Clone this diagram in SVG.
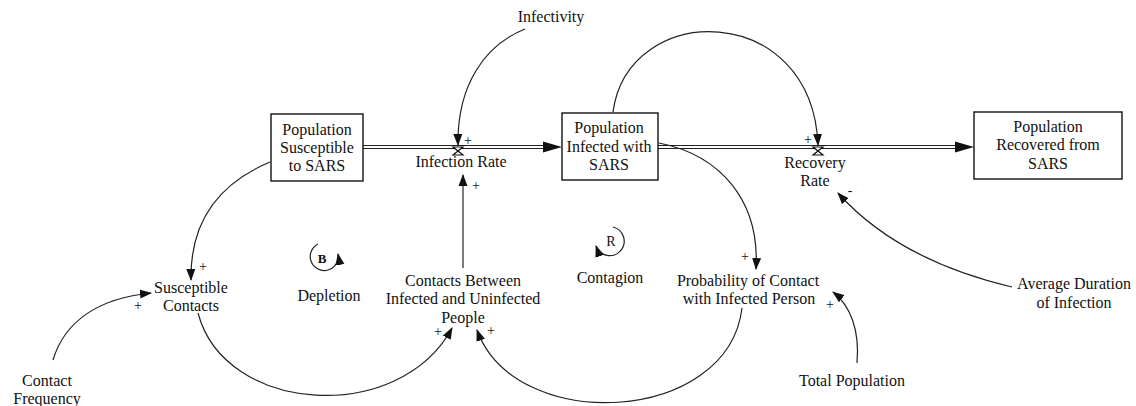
<svg xmlns="http://www.w3.org/2000/svg" width="1136" height="406" viewBox="0 0 1136 406" font-family="'Liberation Serif', 'DejaVu Serif', serif">
<style>
text{font-family:'Liberation Serif','DejaVu Serif',serif;font-size:16px;fill:#111;text-anchor:middle}
.sign{font-size:14px}
.box{fill:#fff;stroke:#111;stroke-width:1.4}
.link{fill:none;stroke:#222;stroke-width:1.2}
.pipe{fill:none;stroke:#222;stroke-width:1.2}
.valve{fill:#fff;stroke:#111;stroke-width:1.2}
</style>
<defs>
<marker id="ah" markerUnits="userSpaceOnUse" markerWidth="12" markerHeight="10" viewBox="0 0 12 10" refX="11" refY="5" orient="auto">
<path d="M0,0.5 L12,5 L0,9.5 Z" fill="#111"/>
</marker>
</defs>
<rect width="1136" height="406" fill="#fff"/>

<g id="flows">
<line class="pipe" x1="363" y1="145.5" x2="548" y2="145.5"/>
<line class="pipe" x1="363" y1="148.5" x2="548" y2="148.5"/>
<path d="M543,141.5 L562,147 L543,152.5 Z" fill="#111"/>
<line class="pipe" x1="658" y1="145.5" x2="960" y2="145.5"/>
<line class="pipe" x1="658" y1="148.5" x2="960" y2="148.5"/>
<path d="M955,141.5 L974,147 L955,152.5 Z" fill="#111"/>
</g>

<g id="node-susceptible">
<rect class="box" x="271" y="114" width="92" height="67"/>
<text x="317" y="135">Population</text>
<text x="317" y="153">Susceptible</text>
<text x="317" y="171">to SARS</text>
</g>
<g id="node-infected">
<rect class="box" x="562" y="113" width="96" height="67"/>
<text x="609" y="133">Population</text>
<text x="609" y="152">Infected with</text>
<text x="609" y="170">SARS</text>
</g>
<g id="node-recovered">
<rect class="box" x="974" y="112" width="148" height="67"/>
<text x="1048" y="132">Population</text>
<text x="1048" y="150">Recovered from</text>
<text x="1048" y="169">SARS</text>
</g>
<g id="node-infection-rate">
<path class="valve" d="M453,147 L463,147 L453,155 L463,155 Z"/>
<text x="461" y="167">Infection Rate</text>
</g>
<g id="node-recovery-rate">
<path class="valve" d="M813,147 L823,147 L813,155 L823,155 Z"/>
<text x="815" y="168">Recovery</text>
<text x="815" y="186">Rate</text>
</g>
<g id="node-infectivity"><text x="551" y="22">Infectivity</text></g>
<g id="node-susceptible-contacts">
<text x="191" y="293">Susceptible</text>
<text x="191" y="311">Contacts</text>
</g>
<g id="node-contact-frequency">
<text x="47" y="386">Contact</text>
<text x="47" y="404">Frequency</text>
</g>
<g id="node-contacts-between">
<text x="463" y="286">Contacts Between</text>
<text x="463" y="304">Infected and Uninfected</text>
<text x="463" y="323">People</text>
</g>
<g id="node-probability">
<text x="748" y="286">Probability of Contact</text>
<text x="749" y="304">with Infected Person</text>
</g>
<g id="node-total-population"><text x="852" y="386">Total Population</text></g>
<g id="node-average-duration">
<text x="1074" y="289">Average Duration</text>
<text x="1074" y="308">of Infection</text>
</g>
<g id="loop-b">
<path class="link" d="M318,244 A14,14 0 1 0 338,254" marker-end="url(#ah)"/>
<text x="322" y="263" style="font-size:13px;font-weight:bold">B</text>
<text x="329" y="301">Depletion</text>
</g>
<g id="loop-r">
<path class="link" d="M613,227 A14.5,14.5 0 1 1 596,246" marker-end="url(#ah)"/>
<text x="611" y="246" style="font-size:14px">R</text>
<text x="610" y="283">Contagion</text>
</g>

<g id="connectors">
<path class="link" d="M525,29 C485,45 457,85 458,145" marker-end="url(#ah)"/>
<path class="link" d="M613,112 C628,0 812,0 818,145" marker-end="url(#ah)"/>
<path class="link" d="M1012,287 C940,270 880,240 838,193" marker-end="url(#ah)"/>
<path class="link" d="M659,143 C720,155 760,200 756,269" marker-end="url(#ah)"/>
<path class="link" d="M742,308 C728,425 515,435 477,330" marker-end="url(#ah)"/>
<path class="link" d="M198,313 C225,415 400,425 452,328" marker-end="url(#ah)"/>
<path class="link" d="M53,360 C65,320 100,298 151,293" marker-end="url(#ah)"/>
<path class="link" d="M270,162 C215,185 190,225 191,280" marker-end="url(#ah)"/>
<path class="link" d="M463,268 L463,175" marker-end="url(#ah)"/>
<path class="link" d="M857,363 C860,330 850,305 833,292" marker-end="url(#ah)"/>
</g>

<g id="polarities">
<text class="sign" x="468" y="145">+</text>
<text class="sign" x="476" y="190">+</text>
<text class="sign" x="808" y="144">+</text>
<text class="sign" x="850" y="195">-</text>
<text class="sign" x="203" y="271">+</text>
<text class="sign" x="138" y="310">+</text>
<text class="sign" x="438" y="336">+</text>
<text class="sign" x="491" y="335">+</text>
<text class="sign" x="745" y="261">+</text>
<text class="sign" x="830" y="309">+</text>
</g>
</svg>
